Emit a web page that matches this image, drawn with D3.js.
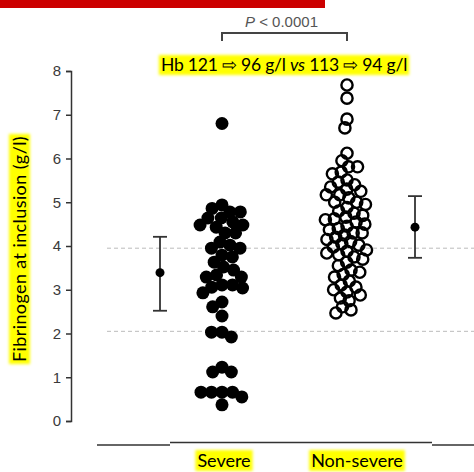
<!DOCTYPE html>
<html>
<head>
<meta charset="utf-8">
<script src="https://cdn.jsdelivr.net/npm/d3@7"></script>
<style>
  body { margin: 0; background: #fff; }
  svg { display: block; }
</style>
</head>
<body>
<div id="chart"></div>
<script>
const groups = ["Severe", "Non-severe"];

// fibrinogen values (g/l)
const severe = [0.37, 0.55, 0.66, 0.66, 0.66, 0.66, 1.12, 1.12, 1.23, 1.92, 2.03, 2.03,
  2.40, 2.61, 2.72, 2.93, 3.04, 3.06, 3.11, 3.11, 3.29, 3.29, 3.34, 3.45, 3.52, 3.63,
  3.75, 3.79, 3.95, 3.95, 4.02, 4.09, 4.30, 4.30, 4.43, 4.48, 4.48, 4.55, 4.64, 4.64,
  4.78, 4.78, 4.86, 4.94, 6.80];
const nonSevere = [2.47, 2.54, 2.61, 2.75, 2.81, 2.88, 2.95, 3.00, 3.06, 3.11, 3.20, 3.29,
  3.35, 3.40, 3.45, 3.55, 3.63, 3.70, 3.75, 3.80, 3.84, 3.88, 3.91, 3.98, 4.02, 4.05,
  4.10, 4.15, 4.20, 4.25, 4.30, 4.30, 4.37, 4.40, 4.45, 4.50, 4.55, 4.60, 4.62, 4.66,
  4.70, 4.75, 4.80, 4.88, 4.95, 5.00, 5.00, 5.10, 5.17, 5.17, 5.25, 5.30, 5.35, 5.40,
  5.46, 5.51, 5.65, 5.69, 5.81, 5.81, 5.95, 6.12, 6.70, 6.90, 7.38, 7.68];

// summary bars: mean with whiskers
const summaryMean = [3.39, 4.43];
const summaryLow = [2.52, 3.73];
const summaryHigh = [4.21, 5.14];

const refLines = [2.05, 3.95];
const yTicks = [0, 1, 2, 3, 4, 5, 6, 7, 8];

const pText = "P < 0.0001";
const yLabel = "Fibrinogen at inclusion (g/l)";

const width = 474;
const height = 472;

const svg = d3.select("#chart").append("svg")
    .attr("width", width)
    .attr("height", height);

const defs = svg.append("defs");
defs.append("filter").attr("id", "soft")
    .attr("x", "-10%").attr("y", "-30%").attr("width", "120%").attr("height", "160%")
    .append("feGaussianBlur").attr("stdDeviation", 1.5);

const y = d3.scaleLinear().domain([0, 8]).range([421, 71]);
const x = d3.scalePoint().domain(groups).range([222, 347]);

// red strip at the top
svg.append("rect")
    .attr("x", 0).attr("y", 0)
    .attr("width", 325).attr("height", 8)
    .attr("fill", "#cc0000");

// dashed reference lines
svg.append("g")
    .selectAll("line")
    .data(refLines)
    .join("line")
    .attr("x1", 107).attr("x2", width)
    .attr("y1", d => y(d)).attr("y2", d => y(d))
    .attr("stroke", "#bbb")
    .attr("stroke-width", 1)
    .attr("stroke-dasharray", "4,3");

// y axis
const yAxis = svg.append("g")
    .attr("transform", "translate(71,0)")
    .call(d3.axisLeft(y).tickValues(yTicks).tickSize(5).tickSizeOuter(5).tickPadding(5));
yAxis.select(".domain").attr("stroke", "#333").attr("stroke-width", 1.5);
yAxis.selectAll(".tick line").attr("stroke", "#333").attr("stroke-width", 1.5);
yAxis.selectAll(".tick text")
    .attr("fill", "#3a3a3a")
    .style("font-family", "'Liberation Sans', Arial, sans-serif")
    .style("font-size", "15px");

// x baseline (three pieces, slightly stepped)
const base = svg.append("g").attr("stroke", "#333").attr("stroke-width", 1.5);
base.append("line").attr("x1", 97).attr("x2", 170).attr("y1", 445).attr("y2", 445);
base.append("line").attr("x1", 170).attr("x2", 432).attr("y1", 442.5).attr("y2", 442.5);
base.append("line").attr("x1", 432).attr("x2", width).attr("y1", 445).attr("y2", 445);

// beeswarm layout, top point first
function dodge(values, diameter) {
    const placed = [];
    const pts = values.map(v => ({ v, y: y(v) })).sort((a, b) => a.y - b.y);
    const d2 = diameter * diameter;
    for (const p of pts) {
        const near = placed.filter(q => Math.abs(q.y - p.y) < diameter);
        const cand = [0];
        for (const q of near) {
            const dx = Math.sqrt(d2 - (q.y - p.y) ** 2);
            cand.push(q.x - dx, q.x + dx);
        }
        cand.sort((a, b) => Math.abs(a) - Math.abs(b) || a - b);
        p.x = cand.find(c => near.every(q => (q.x - c) ** 2 + (q.y - p.y) ** 2 >= d2 - 1e-6));
        placed.push(p);
    }
    return placed;
}

const sevPts = dodge(severe, 10.5);
const nonPts = dodge(nonSevere, 9);

svg.append("g")
    .selectAll("circle")
    .data(sevPts)
    .join("circle")
    .attr("cx", d => x("Severe") + d.x)
    .attr("cy", d => d.y)
    .attr("r", 6.5)
    .attr("fill", "#000");

svg.append("g")
    .selectAll("circle")
    .data(nonPts)
    .join("circle")
    .attr("cx", d => x("Non-severe") + d.x)
    .attr("cy", d => d.y)
    .attr("r", 5.6)
    .attr("fill", "none")
    .attr("stroke", "#000")
    .attr("stroke-width", 2.4);

// mean + whiskers beside each cloud
const barOffset = [-62, 68];
const bars = svg.append("g")
    .selectAll("g")
    .data(groups)
    .join("g")
    .attr("transform", (d, i) => `translate(${x(d) + barOffset[i]},0)`);
bars.append("line")
    .attr("y1", (d, i) => y(summaryLow[i]))
    .attr("y2", (d, i) => y(summaryHigh[i]))
    .attr("stroke", "#333").attr("stroke-width", 1.8);
bars.append("line")
    .attr("x1", -7).attr("x2", 7)
    .attr("y1", (d, i) => y(summaryLow[i]))
    .attr("y2", (d, i) => y(summaryLow[i]))
    .attr("stroke", "#333").attr("stroke-width", 1.8);
bars.append("line")
    .attr("x1", -7).attr("x2", 7)
    .attr("y1", (d, i) => y(summaryHigh[i]))
    .attr("y2", (d, i) => y(summaryHigh[i]))
    .attr("stroke", "#333").attr("stroke-width", 1.8);
bars.append("circle")
    .attr("cy", (d, i) => y(summaryMean[i]))
    .attr("r", 4.5)
    .attr("fill", "#000");

// significance bracket
svg.append("path")
    .attr("d", `M${x("Severe")},41V33H${x("Non-severe")}V41`)
    .attr("fill", "none")
    .attr("stroke", "#444")
    .attr("stroke-width", 2);

const pt = svg.append("text")
    .attr("x", (x("Severe") + x("Non-severe")) / 2 - 3)
    .attr("y", 27)
    .attr("text-anchor", "middle")
    .attr("fill", "#555")
    .style("font-family", "'Liberation Sans', Arial, sans-serif")
    .style("font-size", "15px");
pt.append("tspan").attr("font-style", "italic").text("P");
pt.append("tspan").text(pText.slice(1));

// yellow-highlighted annotations
const hiFont = "Lato, 'Open Sans', sans-serif";

function highlighted(tx, ty, rotate, size, spacing, build) {
    const g = svg.append("g").attr("transform", `translate(${tx},${ty}) rotate(${rotate})`);
    const t = g.append("text")
        .attr("text-anchor", "middle")
        .attr("fill", "#000")
        .style("font-family", hiFont)
        .style("font-size", size + "px")
        .style("letter-spacing", spacing + "px");
    build(t);
    const b = t.node().getBBox();
    g.insert("rect", "text")
        .attr("x", b.x - 2).attr("y", b.y + 1)
        .attr("width", b.width + 4).attr("height", b.height - 1)
        .attr("fill", "#ffff00")
        .attr("filter", "url(#soft)");
    return g;
}

highlighted(284, 71, 0, 17.5, -0.2, t => {
    t.append("tspan").text("Hb 121 \u21E8 96 g/l ");
    t.append("tspan").attr("font-style", "italic").text("vs");
    t.append("tspan").text(" 113 \u21E8 94 g/l");
});

highlighted(26, 249, -90, 18, 0.4, t => t.text(yLabel));

groups.forEach(g => {
    highlighted(x(g) + (g === "Severe" ? 2 : 10), 467, 0, 18, 0, t => t.text(g));
});
</script>
</body>
</html>
